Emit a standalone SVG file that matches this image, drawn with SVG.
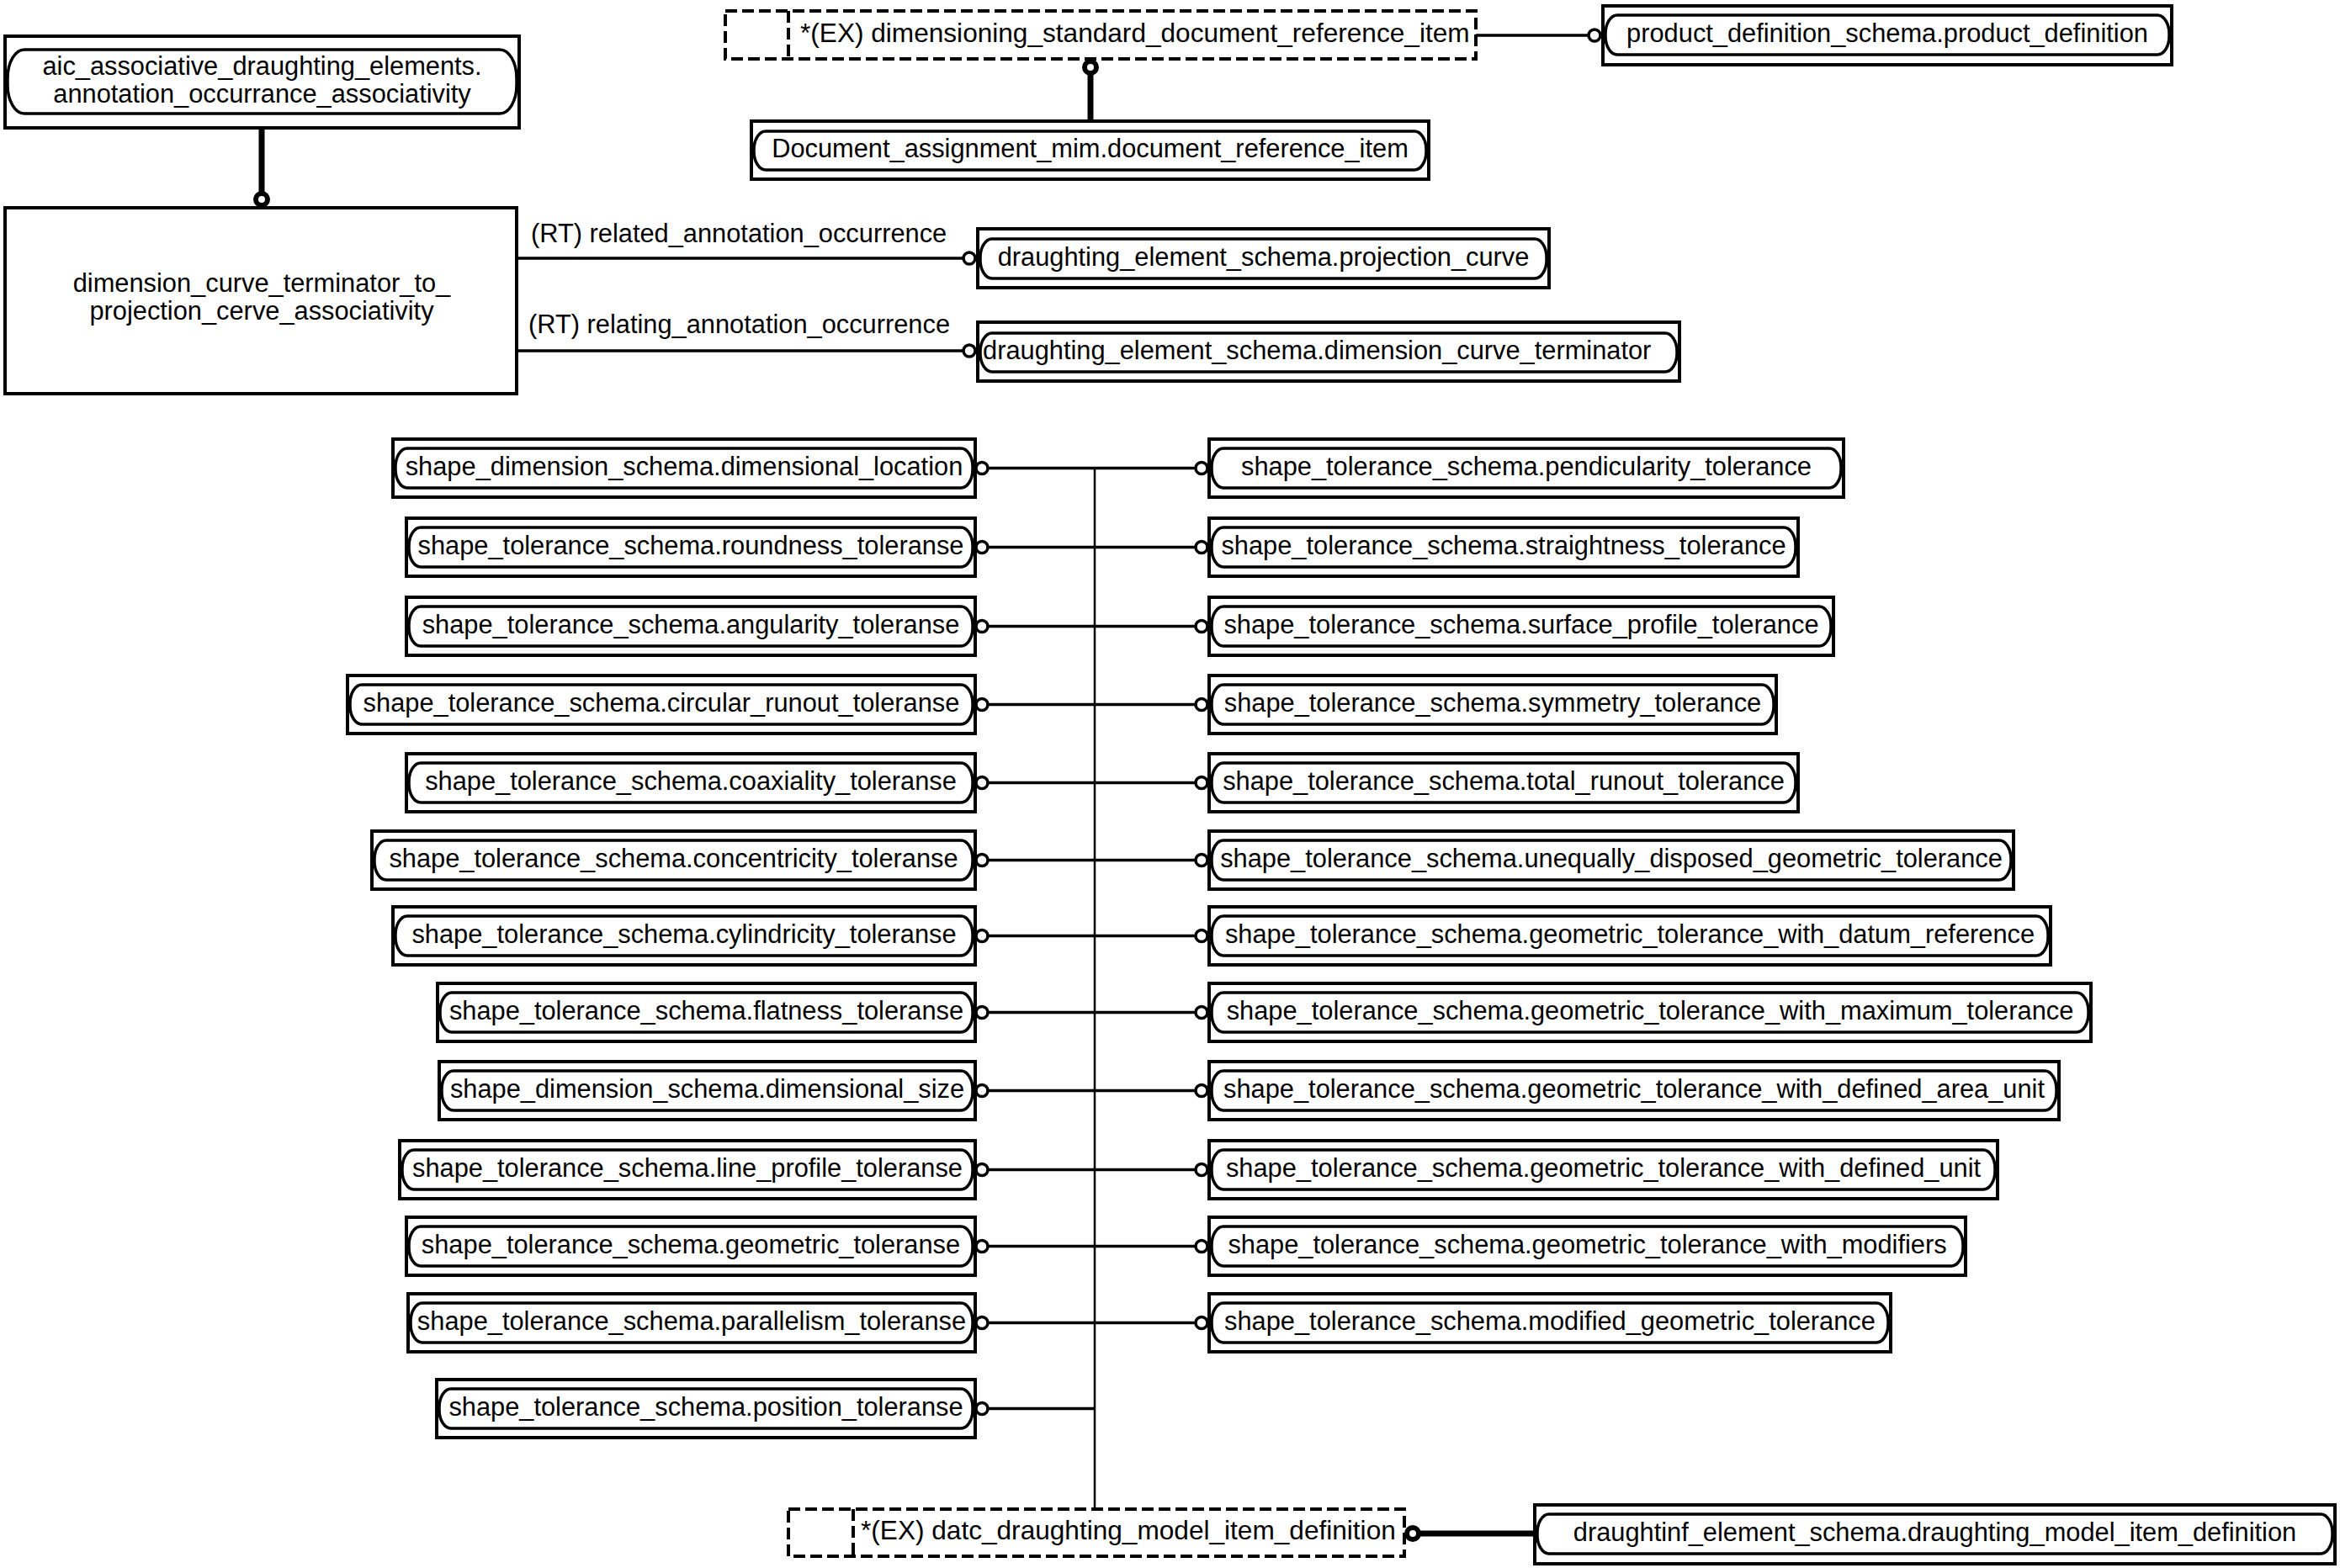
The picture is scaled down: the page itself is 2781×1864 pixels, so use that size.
<svg xmlns="http://www.w3.org/2000/svg" width="2781" height="1864" viewBox="0 0 2781 1864">
<style>
.bg{fill:#fff}
.box{fill:#fff;stroke:#000;stroke-width:4}
.pill{fill:#fff;stroke:#000;stroke-width:3.5}
.dash{fill:#fff;stroke:#000;stroke-width:4;stroke-dasharray:14 6}
.dl{fill:none;stroke:#000;stroke-width:4;stroke-dasharray:14 6}
.t{font-family:"Liberation Sans",Arial,sans-serif;font-size:30.8px;fill:#000}
.ex{font-size:31.6px}
.m{text-anchor:middle}
.ln{fill:none;stroke:#000;stroke-width:3.5}
.bus{fill:none;stroke:#000;stroke-width:2.5}
.thk{fill:none;stroke:#000;stroke-width:7}
.o{fill:#fff;stroke:#000;stroke-width:3.5}
.ot{fill:#fff;stroke:#000;stroke-width:6}
</style>
<rect class="bg" x="0" y="0" width="2781" height="1864"/>

<g id="connectors">
  <line class="thk" x1="311" y1="152" x2="311" y2="228"/>
  <circle class="ot" cx="311" cy="237" r="7"/>
  <line class="thk" x1="1296" y1="89" x2="1296" y2="144"/>
  <circle class="ot" cx="1296" cy="80" r="7"/>
  <line class="ln" x1="1754" y1="42" x2="1889" y2="42"/>
  <circle class="o" cx="1895" cy="42" r="7"/>
  <line class="ln" x1="614" y1="307" x2="1146" y2="307"/>
  <circle class="o" cx="1152" cy="307" r="7"/>
  <text class="t" x="631" y="288">(RT) related_annotation_occurrence</text>
  <line class="ln" x1="614" y1="417" x2="1146" y2="417"/>
  <circle class="o" cx="1152" cy="417" r="7"/>
  <text class="t" x="628" y="396">(RT) relating_annotation_occurrence</text>
  <line class="bus" x1="1301" y1="556.5" x2="1301" y2="1794"/>
  <line class="ln" x1="1172" y1="556.5" x2="1423" y2="556.5"/>
  <line class="ln" x1="1172" y1="650.5" x2="1423" y2="650.5"/>
  <line class="ln" x1="1172" y1="744.5" x2="1423" y2="744.5"/>
  <line class="ln" x1="1172" y1="837.5" x2="1423" y2="837.5"/>
  <line class="ln" x1="1172" y1="930.5" x2="1423" y2="930.5"/>
  <line class="ln" x1="1172" y1="1022.5" x2="1423" y2="1022.5"/>
  <line class="ln" x1="1172" y1="1112.5" x2="1423" y2="1112.5"/>
  <line class="ln" x1="1172" y1="1203.5" x2="1423" y2="1203.5"/>
  <line class="ln" x1="1172" y1="1296.5" x2="1423" y2="1296.5"/>
  <line class="ln" x1="1172" y1="1390.5" x2="1423" y2="1390.5"/>
  <line class="ln" x1="1172" y1="1481.5" x2="1423" y2="1481.5"/>
  <line class="ln" x1="1172" y1="1572.5" x2="1423" y2="1572.5"/>
  <line class="ln" x1="1172" y1="1674.5" x2="1301" y2="1674.5"/>
  <circle class="o" cx="1167" cy="556.5" r="7"/>
  <circle class="o" cx="1167" cy="650.5" r="7"/>
  <circle class="o" cx="1167" cy="744.5" r="7"/>
  <circle class="o" cx="1167" cy="837.5" r="7"/>
  <circle class="o" cx="1167" cy="930.5" r="7"/>
  <circle class="o" cx="1167" cy="1022.5" r="7"/>
  <circle class="o" cx="1167" cy="1112.5" r="7"/>
  <circle class="o" cx="1167" cy="1203.5" r="7"/>
  <circle class="o" cx="1167" cy="1296.5" r="7"/>
  <circle class="o" cx="1167" cy="1390.5" r="7"/>
  <circle class="o" cx="1167" cy="1481.5" r="7"/>
  <circle class="o" cx="1167" cy="1572.5" r="7"/>
  <circle class="o" cx="1167" cy="1674.5" r="7"/>
  <circle class="o" cx="1428" cy="556.5" r="7"/>
  <circle class="o" cx="1428" cy="650.5" r="7"/>
  <circle class="o" cx="1428" cy="744.5" r="7"/>
  <circle class="o" cx="1428" cy="837.5" r="7"/>
  <circle class="o" cx="1428" cy="930.5" r="7"/>
  <circle class="o" cx="1428" cy="1022.5" r="7"/>
  <circle class="o" cx="1428" cy="1112.5" r="7"/>
  <circle class="o" cx="1428" cy="1203.5" r="7"/>
  <circle class="o" cx="1428" cy="1296.5" r="7"/>
  <circle class="o" cx="1428" cy="1390.5" r="7"/>
  <circle class="o" cx="1428" cy="1481.5" r="7"/>
  <circle class="o" cx="1428" cy="1572.5" r="7"/>
  <line class="thk" x1="1688" y1="1823" x2="1824" y2="1823"/>
  <circle class="ot" cx="1679" cy="1823" r="7"/>
</g>

<g id="aic_annotation_occurrance_associativity">
  <rect class="box" x="6" y="43" width="611" height="109"/>
  <rect class="pill" x="9" y="59" width="605" height="76" rx="20" ry="34"/>
  <text class="t m" x="311.5" y="88.5">aic_associative_draughting_elements.</text>
  <text class="t m" x="311.5" y="121.5">annotation_occurrance_associativity</text>
</g>

<g id="dimension_curve_terminator_to_projection_cerve_associativity">
  <rect class="box" x="6" y="247" width="608" height="221"/>
  <text class="t m" x="311" y="347">dimension_curve_terminator_to_</text>
  <text class="t m" x="311" y="380">projection_cerve_associativity</text>
</g>

<g id="dimensioning_standard_document_reference_item">
  <rect class="dash" x="862" y="13" width="892" height="57"/>
  <line class="dl" x1="937" y1="13" x2="937" y2="70"/>
  <text class="t ex" x="951" y="50">*(EX) dimensioning_standard_document_reference_item</text>
</g>

<g id="product_definition">
  <rect class="box" x="1905" y="7" width="676" height="70"/>
  <rect class="pill" x="1908" y="18" width="670" height="47" rx="14" ry="22"/>
  <text class="t m" x="2243" y="50">product_definition_schema.product_definition</text>
</g>

<g id="document_reference_item">
  <rect class="box" x="893" y="144" width="805" height="69"/>
  <rect class="pill" x="896" y="156" width="799" height="46" rx="14" ry="22"/>
  <text class="t m" x="1295.5" y="187">Document_assignment_mim.document_reference_item</text>
</g>

<g id="projection_curve">
  <rect class="box" x="1162" y="272" width="679" height="70"/>
  <rect class="pill" x="1165" y="284" width="673" height="47" rx="14" ry="22"/>
  <text class="t m" x="1501.5" y="315.5">draughting_element_schema.projection_curve</text>
</g>

<g id="dimension_curve_terminator">
  <rect class="box" x="1162" y="383" width="834" height="70"/>
  <rect class="pill" x="1165" y="396" width="828" height="46" rx="14" ry="22"/>
  <text class="t" x="1168" y="427">draughting_element_schema.dimension_curve_terminator</text>
</g>

<g id="left_nodes">
  <g id="dimensional_location" transform="translate(467,522)"><rect class="box" width="692" height="69"/><rect class="pill" x="3" y="11" width="686" height="47" rx="14" ry="22"/><text class="t m" x="346" y="42.5">shape_dimension_schema.dimensional_location</text></g>
  <g id="roundness_toleranse" transform="translate(483,616)"><rect class="box" width="676" height="69"/><rect class="pill" x="3" y="11" width="670" height="47" rx="14" ry="22"/><text class="t m" x="338" y="42.5">shape_tolerance_schema.roundness_toleranse</text></g>
  <g id="angularity_toleranse" transform="translate(483,710)"><rect class="box" width="676" height="69"/><rect class="pill" x="3" y="11" width="670" height="47" rx="14" ry="22"/><text class="t m" x="338" y="42.5">shape_tolerance_schema.angularity_toleranse</text></g>
  <g id="circular_runout_toleranse" transform="translate(413,803)"><rect class="box" width="746" height="69"/><rect class="pill" x="3" y="11" width="740" height="47" rx="14" ry="22"/><text class="t m" x="373" y="42.5">shape_tolerance_schema.circular_runout_toleranse</text></g>
  <g id="coaxiality_toleranse" transform="translate(483,896)"><rect class="box" width="676" height="69"/><rect class="pill" x="3" y="11" width="670" height="47" rx="14" ry="22"/><text class="t m" x="338" y="42.5">shape_tolerance_schema.coaxiality_toleranse</text></g>
  <g id="concentricity_toleranse" transform="translate(442,988)"><rect class="box" width="717" height="69"/><rect class="pill" x="3" y="11" width="711" height="47" rx="14" ry="22"/><text class="t m" x="358.5" y="42.5">shape_tolerance_schema.concentricity_toleranse</text></g>
  <g id="cylindricity_toleranse" transform="translate(467,1078)"><rect class="box" width="692" height="69"/><rect class="pill" x="3" y="11" width="686" height="47" rx="14" ry="22"/><text class="t m" x="346" y="42.5">shape_tolerance_schema.cylindricity_toleranse</text></g>
  <g id="flatness_toleranse" transform="translate(520,1169)"><rect class="box" width="639" height="69"/><rect class="pill" x="3" y="11" width="633" height="47" rx="14" ry="22"/><text class="t m" x="319.5" y="42.5">shape_tolerance_schema.flatness_toleranse</text></g>
  <g id="dimensional_size" transform="translate(522,1262)"><rect class="box" width="637" height="69"/><rect class="pill" x="3" y="11" width="631" height="47" rx="14" ry="22"/><text class="t m" x="318.5" y="42.5">shape_dimension_schema.dimensional_size</text></g>
  <g id="line_profile_toleranse" transform="translate(475,1356)"><rect class="box" width="684" height="69"/><rect class="pill" x="3" y="11" width="678" height="47" rx="14" ry="22"/><text class="t m" x="342" y="42.5">shape_tolerance_schema.line_profile_toleranse</text></g>
  <g id="geometric_toleranse" transform="translate(483,1447)"><rect class="box" width="676" height="69"/><rect class="pill" x="3" y="11" width="670" height="47" rx="14" ry="22"/><text class="t m" x="338" y="42.5">shape_tolerance_schema.geometric_toleranse</text></g>
  <g id="parallelism_toleranse" transform="translate(485,1538)"><rect class="box" width="674" height="69"/><rect class="pill" x="3" y="11" width="668" height="47" rx="14" ry="22"/><text class="t m" x="337" y="42.5">shape_tolerance_schema.parallelism_toleranse</text></g>
  <g id="position_toleranse" transform="translate(519,1640)"><rect class="box" width="640" height="69"/><rect class="pill" x="3" y="11" width="634" height="47" rx="14" ry="22"/><text class="t m" x="320" y="42.5">shape_tolerance_schema.position_toleranse</text></g>
</g>

<g id="right_nodes">
  <g id="pendicularity_tolerance" transform="translate(1437,522)"><rect class="box" width="754" height="69"/><rect class="pill" x="3" y="11" width="748" height="47" rx="14" ry="22"/><text class="t m" x="377" y="42.5">shape_tolerance_schema.pendicularity_tolerance</text></g>
  <g id="straightness_tolerance" transform="translate(1437,616)"><rect class="box" width="700" height="69"/><rect class="pill" x="3" y="11" width="694" height="47" rx="14" ry="22"/><text class="t m" x="350" y="42.5">shape_tolerance_schema.straightness_tolerance</text></g>
  <g id="surface_profile_tolerance" transform="translate(1437,710)"><rect class="box" width="742" height="69"/><rect class="pill" x="3" y="11" width="736" height="47" rx="14" ry="22"/><text class="t m" x="371" y="42.5">shape_tolerance_schema.surface_profile_tolerance</text></g>
  <g id="symmetry_tolerance" transform="translate(1437,803)"><rect class="box" width="674" height="69"/><rect class="pill" x="3" y="11" width="668" height="47" rx="14" ry="22"/><text class="t m" x="337" y="42.5">shape_tolerance_schema.symmetry_tolerance</text></g>
  <g id="total_runout_tolerance" transform="translate(1437,896)"><rect class="box" width="700" height="69"/><rect class="pill" x="3" y="11" width="694" height="47" rx="14" ry="22"/><text class="t m" x="350" y="42.5">shape_tolerance_schema.total_runout_tolerance</text></g>
  <g id="unequally_disposed_geometric_tolerance" transform="translate(1437,988)"><rect class="box" width="956" height="69"/><rect class="pill" x="3" y="11" width="950" height="47" rx="14" ry="22"/><text class="t m" x="478" y="42.5">shape_tolerance_schema.unequally_disposed_geometric_tolerance</text></g>
  <g id="geometric_tolerance_with_datum_reference" transform="translate(1437,1078)"><rect class="box" width="1000" height="69"/><rect class="pill" x="3" y="11" width="994" height="47" rx="14" ry="22"/><text class="t m" x="500" y="42.5">shape_tolerance_schema.geometric_tolerance_with_datum_reference</text></g>
  <g id="geometric_tolerance_with_maximum_tolerance" transform="translate(1437,1169)"><rect class="box" width="1048" height="69"/><rect class="pill" x="3" y="11" width="1042" height="47" rx="14" ry="22"/><text class="t m" x="524" y="42.5">shape_tolerance_schema.geometric_tolerance_with_maximum_tolerance</text></g>
  <g id="geometric_tolerance_with_defined_area_unit" transform="translate(1437,1262)"><rect class="box" width="1010" height="69"/><rect class="pill" x="3" y="11" width="1004" height="47" rx="14" ry="22"/><text class="t m" x="505" y="42.5">shape_tolerance_schema.geometric_tolerance_with_defined_area_unit</text></g>
  <g id="geometric_tolerance_with_defined_unit" transform="translate(1437,1356)"><rect class="box" width="937" height="69"/><rect class="pill" x="3" y="11" width="931" height="47" rx="14" ry="22"/><text class="t m" x="468.5" y="42.5">shape_tolerance_schema.geometric_tolerance_with_defined_unit</text></g>
  <g id="geometric_tolerance_with_modifiers" transform="translate(1437,1447)"><rect class="box" width="899" height="69"/><rect class="pill" x="3" y="11" width="893" height="47" rx="14" ry="22"/><text class="t m" x="449.5" y="42.5">shape_tolerance_schema.geometric_tolerance_with_modifiers</text></g>
  <g id="modified_geometric_tolerance" transform="translate(1437,1538)"><rect class="box" width="810" height="69"/><rect class="pill" x="3" y="11" width="804" height="47" rx="14" ry="22"/><text class="t m" x="405" y="42.5">shape_tolerance_schema.modified_geometric_tolerance</text></g>
</g>

<g id="datc_draughting_model_item_definition">
  <rect class="dash" x="937" y="1794" width="732" height="56"/>
  <line class="dl" x1="1014" y1="1794" x2="1014" y2="1850"/>
  <text class="t ex" x="1023" y="1830">*(EX) datc_draughting_model_item_definition</text>
</g>

<g id="draughting_model_item_definition">
  <rect class="box" x="1824" y="1789" width="951" height="70"/>
  <rect class="pill" x="1827" y="1800" width="945" height="47" rx="14" ry="22"/>
  <text class="t m" x="2299.5" y="1832">draughtinf_element_schema.draughting_model_item_definition</text>
</g>
</svg>
